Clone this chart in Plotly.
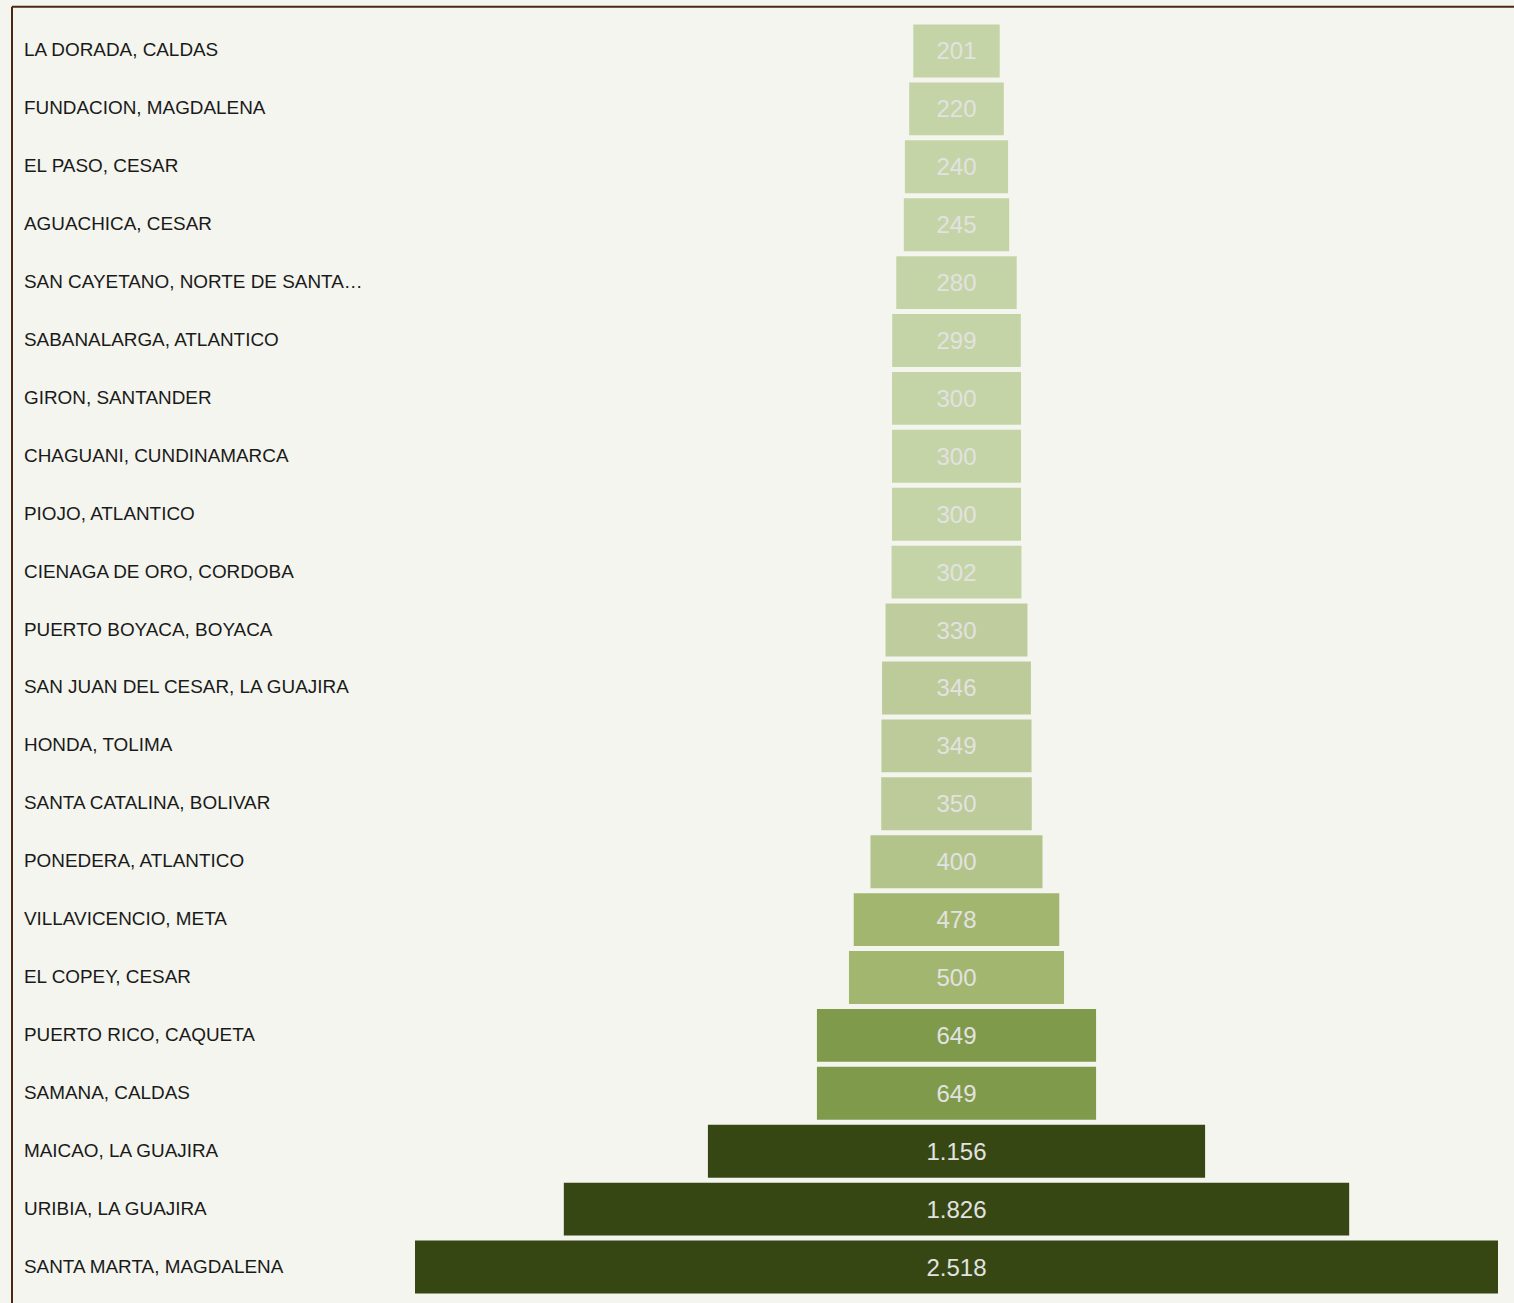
import plotly.graph_objects as go

categories = [
    "LA DORADA, CALDAS", "FUNDACION, MAGDALENA", "EL PASO, CESAR", "AGUACHICA, CESAR",
    "SAN CAYETANO, NORTE DE SANTA…", "SABANALARGA, ATLANTICO", "GIRON, SANTANDER",
    "CHAGUANI, CUNDINAMARCA", "PIOJO, ATLANTICO", "CIENAGA DE ORO, CORDOBA",
    "PUERTO BOYACA, BOYACA", "SAN JUAN DEL CESAR, LA GUAJIRA", "HONDA, TOLIMA",
    "SANTA CATALINA, BOLIVAR", "PONEDERA, ATLANTICO", "VILLAVICENCIO, META",
    "EL COPEY, CESAR", "PUERTO RICO, CAQUETA", "SAMANA, CALDAS", "MAICAO, LA GUAJIRA",
    "URIBIA, LA GUAJIRA", "SANTA MARTA, MAGDALENA",
]
values = [201, 220, 240, 245, 280, 299, 300, 300, 300, 302, 330, 346, 349, 350,
          400, 478, 500, 649, 649, 1156, 1826, 2518]


def color_for(v):
    if v >= 1000:
        return "#374714"
    if v >= 600:
        return "#7f9a4b"
    if v >= 450:
        return "#a2b670"
    if v >= 380:
        return "#b3c48b"
    if v >= 340:
        return "#bccb99"
    if v >= 320:
        return "#bfcd9e"
    return "#c5d4a7"


def fmt(v):
    return f"{v:,}".replace(",", ".")


W, H = 1514, 1303
L, R, T, B = 415, 16, 22, 7
pw = W - L - R
ph = H - T - B
vmax = max(values)

fig = go.Figure(go.Funnel(
    y=categories,
    x=values,
    text=[fmt(v) for v in values],
    texttemplate="%{text}",
    textposition="inside",
    insidetextanchor="middle",
    textfont=dict(family="Liberation Sans, Arial, sans-serif", size=24, color="#e2e2e0"),
    marker=dict(color=[color_for(v) for v in values], line=dict(width=0)),
    connector=dict(visible=False),
    hoverinfo="y+x",
))

annotations = []
for c in categories:
    annotations.append(dict(
        x=(22 - L) / pw, xref="paper", xanchor="left",
        y=c, yref="y", yanchor="middle", yshift=1,
        text=c, showarrow=False,
        font=dict(family="Liberation Sans, Arial, sans-serif", size=18.9, color="#1a1a1a"),
    ))

fig.update_layout(
    width=W, height=H,
    margin=dict(l=L, r=R, t=T, b=B, pad=0),
    paper_bgcolor="#f4f5ee",
    plot_bgcolor="#f4f5ee",
    funnelgap=5 / 58,
    showlegend=False,
    xaxis=dict(range=[-vmax / 2, vmax / 2], visible=False, fixedrange=True),
    yaxis=dict(categoryorder="array", categoryarray=categories,
               range=[len(categories) - 0.5, -0.5], autorange=False,
               showticklabels=False, showgrid=False, zeroline=False, fixedrange=True),
    annotations=annotations,
    shapes=[
        dict(type="line", xref="paper", yref="paper",
             x0=(12 - L) / pw, x1=(1530 - L) / pw,
             y0=1 + (T - 6.7) / ph, y1=1 + (T - 6.7) / ph,
             line=dict(color="#4a2812", width=2)),
        dict(type="line", xref="paper", yref="paper",
             x0=(12 - L) / pw, x1=(12 - L) / pw,
             y0=1 + (T - 6.7) / ph, y1=-(20) / ph,
             line=dict(color="#4a2812", width=2)),
    ],
)

fig.write_html("out.html", config={"displayModeBar": False},
               post_script="document.body.style.margin='0';document.body.style.background='#f4f5ee';")
